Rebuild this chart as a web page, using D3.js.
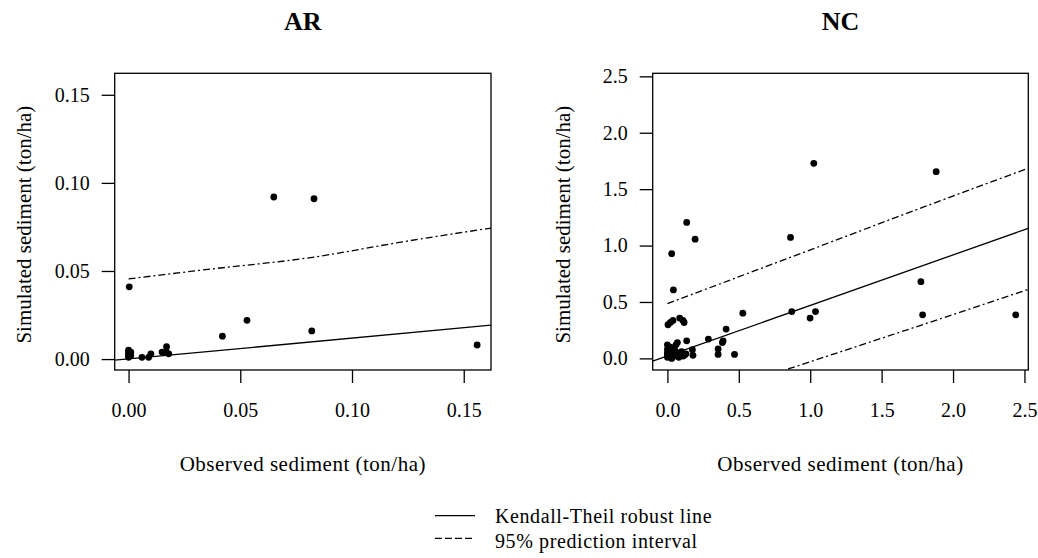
<!DOCTYPE html>
<html>
<head>
<meta charset="utf-8">
<script src="https://cdn.jsdelivr.net/npm/d3@7"></script>
<style>
  body { margin: 0; background: #fff; }
  text { font-family: "Liberation Serif", "Times New Roman", serif; fill: #000; }
</style>
</head>
<body>
<svg id="chart" width="1038" height="558"></svg>
<script>
//AR observed vs simulated sediment (ton/ha)
var arObs = [0, 0, 0, 0, 0, 0.001, 0.001, 0.0003, 0.006, 0.009, 0.010, 0.015, 0.017, 0.017, 0.018, 0.042, 0.053, 0.065, 0.082, 0.083, 0.156];
var arSim = [0.001, 0.002, 0.003, 0.004, 0.005, 0.002, 0.004, 0.041, 0.001, 0.001, 0.003, 0.004, 0.007, 0.004, 0.003, 0.013, 0.022, 0.092, 0.016, 0.091, 0.008];
//AR Kendall-Theil line and upper prediction limit
var arLine = [0.0001, 0.118]; // intercept, slope
var arPiX = [0, 0.032, 0.083, 0.122, 0.1624];
var arPiUp = [0.0455, 0.0504, 0.0579, 0.0664, 0.0744];
var arTicks = [0, 0.05, 0.10, 0.15];

//NC observed vs simulated sediment (ton/ha)
var ncObs = [1.025, 1.882, 0.135, 0.194, 0.862, 0.030, 0.042, 1.775, 0.528, 0.871, 0.999, 1.037, 1.787, 2.439,
  0.411, 0.287, 0.390, 0.385, 0.355, 0.355, 0.470, 0.135, 0.175, 0.179, 0.004, 0.021, 0.039, 0.086, 0.109, 0.117,
  0, 0, 0, 0, 0, 0.01, 0.02, 0.02, 0.03, 0.04, 0.05, 0.05, 0.06, 0.07, 0.07, 0.08, 0.09, 0.10, 0.11, 0.12, 0.13];
var ncSim = [1.729, 1.655, 1.205, 1.057, 1.072, 0.928, 0.607, 0.680, 0.401, 0.415, 0.357, 0.415, 0.386, 0.386,
  0.260, 0.171, 0.156, 0.140, 0.083, 0.035, 0.035, 0.156, 0.077, 0.027, 0.298, 0.318, 0.336, 0.357, 0.336, 0.318,
  0.01, 0.03, 0.05, 0.08, 0.12, 0.02, 0.06, 0.10, 0.0, 0.04, 0.08, 0.02, 0.12, 0.14, 0.05, 0.01, 0.03, 0.06, 0.02, 0.03, 0.04];
var ncLine = [0.021, 0.448];
var ncPiX = [0, 0.85, 1.79, 2.53];
var ncPiUp = [0.486, 0.89, 1.34, 1.687];
var ncLoX = [0.845, 1.79, 2.53];
var ncLoY = [-0.094, 0.30, 0.613];
var ncTicks = [0, 0.5, 1.0, 1.5, 2.0, 2.5];

var svg = d3.select("#chart");

//draw one scatter panel
function drawPanel(p) {
  var x = d3.scaleLinear().domain(p.dom).range([p.left, p.right]),
    y = d3.scaleLinear().domain(p.dom).range([p.bottom, p.top]);

  // -- clip for lines
  svg.append("clipPath").attr("id", "clip" + p.name)
    .append("rect")
    .attr("x", p.left).attr("y", p.top)
    .attr("width", p.right - p.left).attr("height", p.bottom - p.top);

  // -- title
  svg.append("text")
    .attr("x", (p.left + p.right) / 2).attr("y", 29.5)
    .attr("text-anchor", "middle")
    .style("font-size", "26px").style("font-weight", "bold")
    .text(p.name);

  // -- x axis
  var gx = svg.append("g")
    .attr("transform", "translate(0," + p.bottom + ")")
    .call(d3.axisBottom(x).tickValues(p.ticks).tickFormat(d3.format(p.fmt)).tickSize(13).tickPadding(20));
  // -- y axis
  var gy = svg.append("g")
    .attr("transform", "translate(" + p.left + ",0)")
    .call(d3.axisLeft(y).tickValues(p.ticks).tickFormat(d3.format(p.fmt)).tickSize(13).tickPadding(12));
  [gx, gy].forEach(function(g) {
    g.select(".domain").remove();
    g.selectAll("line").attr("stroke", "#000").attr("stroke-width", 1.3);
    g.selectAll("text").style("font-size", "20px").attr("font-family", null).attr("fill", "#000");
  });

  // -- box
  svg.append("rect")
    .attr("x", p.left).attr("y", p.top)
    .attr("width", p.right - p.left).attr("height", p.bottom - p.top)
    .attr("fill", "none").attr("stroke", "#000").attr("stroke-width", 1.3);

  // -- axis titles
  svg.append("text")
    .attr("x", (p.left + p.right) / 2).attr("y", 471)
    .attr("text-anchor", "middle").style("font-size", "21px").style("letter-spacing", "0.5px")
    .text("Observed sediment (ton/ha)");
  svg.append("text")
    .attr("transform", "translate(" + p.ylabX + "," + ((p.top + p.bottom) / 2 + 3) + ") rotate(-90)")
    .attr("text-anchor", "middle").style("font-size", "21px")
    .text("Simulated sediment (ton/ha)");

  var lines = svg.append("g").attr("clip-path", "url(#clip" + p.name + ")");
  // -- robust line
  lines.append("line")
    .attr("x1", x(p.dom[0])).attr("y1", y(p.line[0] + p.line[1] * p.dom[0]))
    .attr("x2", x(p.dom[1])).attr("y2", y(p.line[0] + p.line[1] * p.dom[1]))
    .attr("stroke", "#000").attr("stroke-width", 1.3);
  // -- prediction interval
  var pi = d3.line().x(function(d) { return x(d[0]); }).y(function(d) { return y(d[1]); })
    .curve(d3.curveMonotoneX);
  p.pis.forEach(function(s) {
    lines.append("path")
      .attr("d", pi(d3.zip(s[0], s[1])))
      .attr("fill", "none").attr("stroke", "#000").attr("stroke-width", 1.3)
      .attr("stroke-dasharray", "7,3,2,3");
  });

  // -- points
  svg.append("g").selectAll("circle")
    .data(d3.zip(p.obs, p.sim))
    .enter()
    .append("circle")
    .attr("cx", function(d) { return x(d[0]); })
    .attr("cy", function(d) { return y(d[1]); })
    .attr("r", 3.4)
    .attr("fill", "#000");
}

drawPanel({ name: "AR", dom: [-0.0062, 0.1622], left: 114.7, right: 491, top: 73.3, bottom: 370,
  ticks: arTicks, fmt: ".2f", ylabX: 31, obs: arObs, sim: arSim, line: arLine,
  pis: [[arPiX, arPiUp]] });
drawPanel({ name: "NC", dom: [-0.103, 2.527], left: 652.7, right: 1028.3, top: 73.3, bottom: 370,
  ticks: ncTicks, fmt: ".1f", ylabX: 570, obs: ncObs, sim: ncSim, line: ncLine,
  pis: [[ncPiX, ncPiUp], [ncLoX, ncLoY]] });

//legend
var legend = svg.append("g").style("font-size", "20px").style("letter-spacing", "0.6px");
legend.append("line").attr("x1", 435).attr("x2", 475).attr("y1", 515.7).attr("y2", 515.7)
  .attr("stroke", "#000").attr("stroke-width", 1.3);
legend.append("line").attr("x1", 435).attr("x2", 475).attr("y1", 538.3).attr("y2", 538.3)
  .attr("stroke", "#000").attr("stroke-width", 1.3).attr("stroke-dasharray", "7,3");
legend.append("text").attr("x", 495).attr("y", 523).text("Kendall-Theil robust line");
legend.append("text").attr("x", 495).attr("y", 548).text("95% prediction interval");
</script>
</body>
</html>
